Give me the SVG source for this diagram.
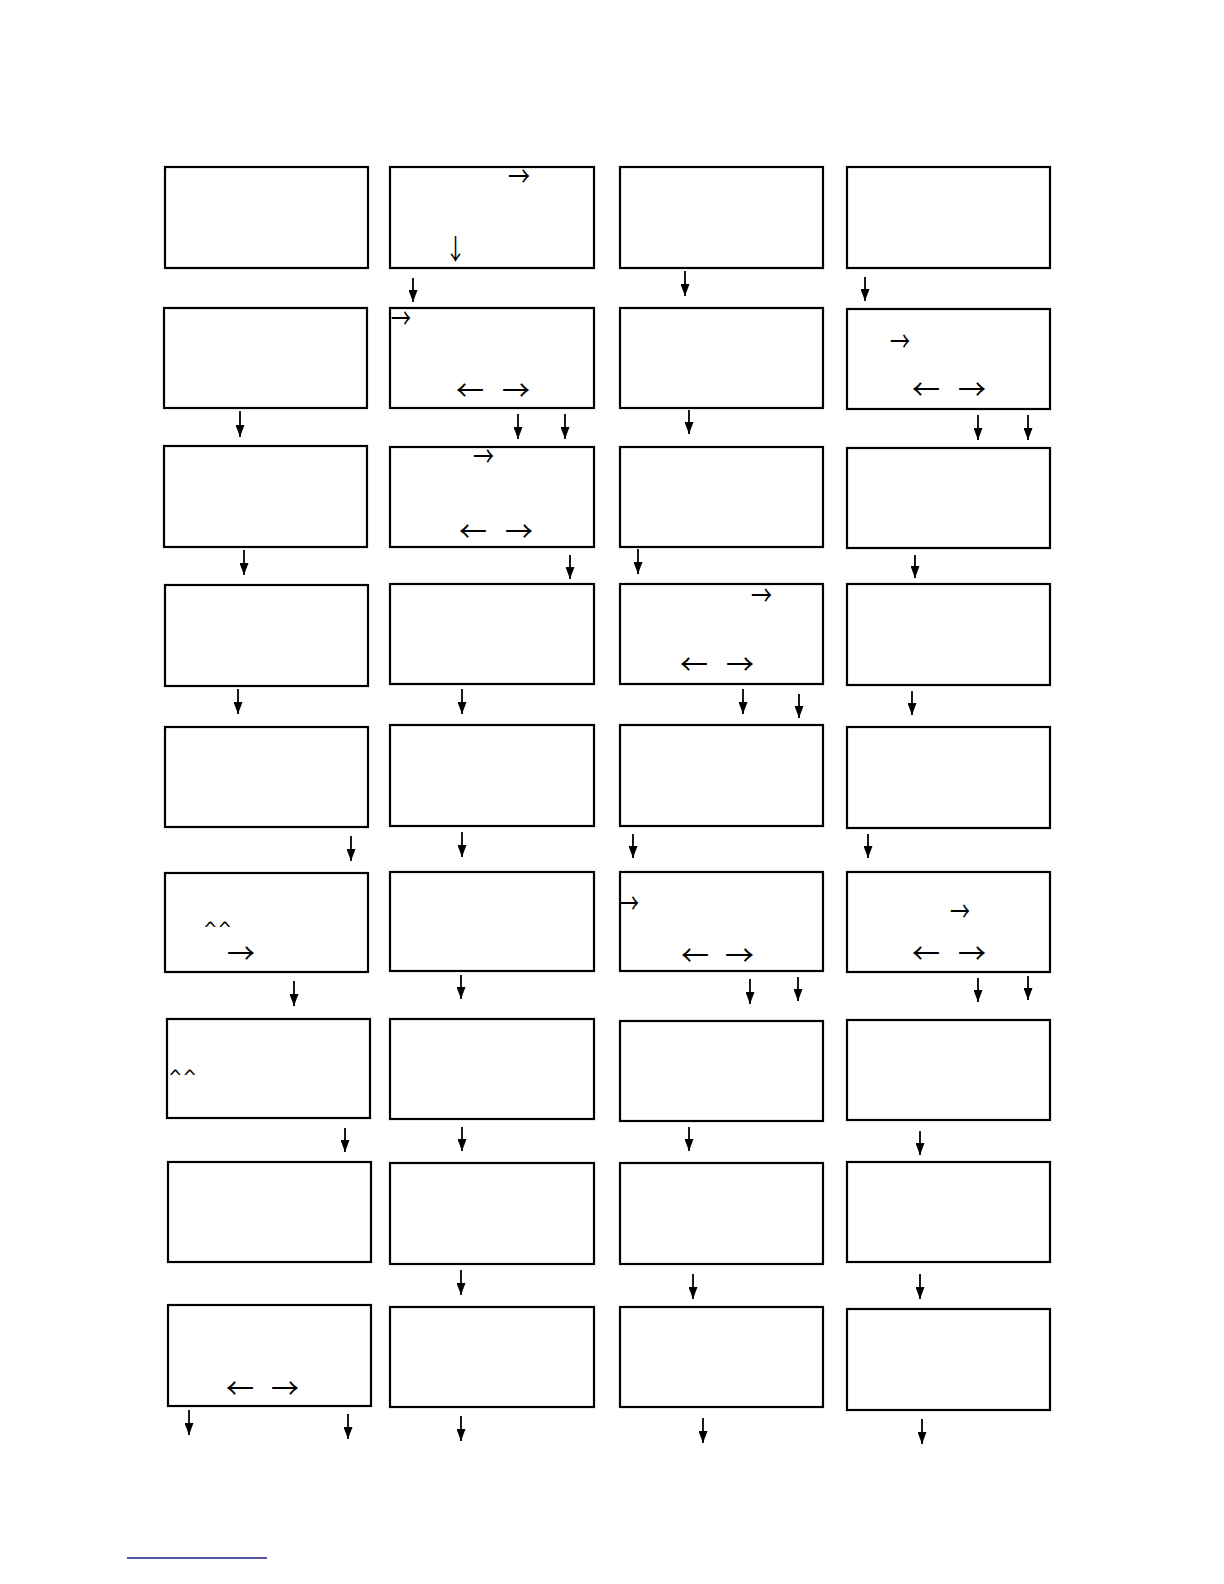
<svg xmlns="http://www.w3.org/2000/svg" width="1224" height="1584" viewBox="0 0 1224 1584">
<defs>
<marker id="ah" markerWidth="12" markerHeight="9" refX="12" refY="4.5" orient="auto" markerUnits="userSpaceOnUse" viewBox="0 0 12 9">
<path d="M0,0 L12,4.5 L0,9 Z" fill="#000"/>
</marker>
</defs>
<style>
.box{fill:#fff;stroke:#000;stroke-width:2.2}
.c line{stroke:#000;stroke-width:1.8;marker-end:url(#ah)}
.g{font-family:"Noto Sans CJK SC","DejaVu Sans",sans-serif;font-size:28px;fill:#000}
.k{font-family:"DejaVu Sans",sans-serif;font-size:20px;fill:#000}
</style>
<rect width="1224" height="1584" fill="#fff"/>
<g id="nodes">
<g id="n11"><rect class="box" x="165" y="167" width="203" height="101"/></g>
<g id="n21"><rect class="box" x="164" y="308" width="203" height="100"/></g>
<g id="n31"><rect class="box" x="164" y="446" width="203" height="101"/></g>
<g id="n41"><rect class="box" x="165" y="585" width="203" height="101"/></g>
<g id="n51"><rect class="box" x="165" y="727" width="203" height="100"/></g>
<g id="n61"><rect class="box" x="165" y="873" width="203" height="99"/>
<text class="k" x="203" y="936" textLength="29" lengthAdjust="spacingAndGlyphs">^^</text>
<text class="g" x="227" y="964" font-size="25" textLength="28" lengthAdjust="spacingAndGlyphs">→</text></g>
<g id="n71"><rect class="box" x="167" y="1019" width="203" height="99"/>
<text class="k" x="168" y="1084" textLength="29" lengthAdjust="spacingAndGlyphs">^^</text></g>
<g id="n81"><rect class="box" x="168" y="1162" width="203" height="100"/></g>
<g id="n91"><rect class="box" x="168" y="1305" width="203" height="101"/>
<text class="g" x="226" y="1399" textLength="28" lengthAdjust="spacingAndGlyphs">←</text>
<text class="g" x="271" y="1399" textLength="28" lengthAdjust="spacingAndGlyphs">→</text></g>

<g id="n12"><rect class="box" x="390" y="167" width="204" height="101"/>
<text class="g" x="508" y="187" textLength="22" lengthAdjust="spacingAndGlyphs">→</text>
<text class="g" x="445" y="260" textLength="21" lengthAdjust="spacingAndGlyphs">↓</text></g>
<g id="n22"><rect class="box" x="390" y="308" width="204" height="100"/>
<text class="g" x="391" y="329" textLength="20" lengthAdjust="spacingAndGlyphs">→</text>
<text class="g" x="456" y="401" textLength="28" lengthAdjust="spacingAndGlyphs">←</text>
<text class="g" x="502" y="401" textLength="28" lengthAdjust="spacingAndGlyphs">→</text></g>
<g id="n32"><rect class="box" x="390" y="447" width="204" height="100"/>
<text class="g" x="473" y="467" textLength="21" lengthAdjust="spacingAndGlyphs">→</text>
<text class="g" x="459" y="542" textLength="28" lengthAdjust="spacingAndGlyphs">←</text>
<text class="g" x="505" y="542" textLength="28" lengthAdjust="spacingAndGlyphs">→</text></g>
<g id="n42"><rect class="box" x="390" y="584" width="204" height="100"/></g>
<g id="n52"><rect class="box" x="390" y="725" width="204" height="101"/></g>
<g id="n62"><rect class="box" x="390" y="872" width="204" height="99"/></g>
<g id="n72"><rect class="box" x="390" y="1019" width="204" height="100"/></g>
<g id="n82"><rect class="box" x="390" y="1163" width="204" height="101"/></g>
<g id="n92"><rect class="box" x="390" y="1307" width="204" height="100"/></g>

<g id="n13"><rect class="box" x="620" y="167" width="203" height="101"/></g>
<g id="n23"><rect class="box" x="620" y="308" width="203" height="100"/></g>
<g id="n33"><rect class="box" x="620" y="447" width="203" height="100"/></g>
<g id="n43"><rect class="box" x="620" y="584" width="203" height="100"/>
<text class="g" x="751" y="606" textLength="21" lengthAdjust="spacingAndGlyphs">→</text>
<text class="g" x="680" y="675" textLength="28" lengthAdjust="spacingAndGlyphs">←</text>
<text class="g" x="726" y="675" textLength="28" lengthAdjust="spacingAndGlyphs">→</text></g>
<g id="n53"><rect class="box" x="620" y="725" width="203" height="101"/></g>
<g id="n63"><rect class="box" x="620" y="872" width="203" height="99"/>
<text class="g" x="619" y="914" textLength="20" lengthAdjust="spacingAndGlyphs">→</text>
<text class="g" x="681" y="966" textLength="28" lengthAdjust="spacingAndGlyphs">←</text>
<text class="g" x="725" y="966" textLength="29" lengthAdjust="spacingAndGlyphs">→</text></g>
<g id="n73"><rect class="box" x="620" y="1021" width="203" height="100"/></g>
<g id="n83"><rect class="box" x="620" y="1163" width="203" height="101"/></g>
<g id="n93"><rect class="box" x="620" y="1307" width="203" height="100"/></g>

<g id="n14"><rect class="box" x="847" y="167" width="203" height="101"/></g>
<g id="n24"><rect class="box" x="847" y="309" width="203" height="100"/>
<text class="g" x="890" y="352" textLength="20" lengthAdjust="spacingAndGlyphs">→</text>
<text class="g" x="912" y="400" textLength="28" lengthAdjust="spacingAndGlyphs">←</text>
<text class="g" x="958" y="400" textLength="28" lengthAdjust="spacingAndGlyphs">→</text></g>
<g id="n34"><rect class="box" x="847" y="448" width="203" height="100"/></g>
<g id="n44"><rect class="box" x="847" y="584" width="203" height="101"/></g>
<g id="n54"><rect class="box" x="847" y="727" width="203" height="101"/></g>
<g id="n64"><rect class="box" x="847" y="872" width="203" height="100"/>
<text class="g" x="950" y="922" textLength="20" lengthAdjust="spacingAndGlyphs">→</text>
<text class="g" x="912" y="964" textLength="28" lengthAdjust="spacingAndGlyphs">←</text>
<text class="g" x="958" y="964" textLength="28" lengthAdjust="spacingAndGlyphs">→</text></g>
<g id="n74"><rect class="box" x="847" y="1020" width="203" height="100"/></g>
<g id="n84"><rect class="box" x="847" y="1162" width="203" height="100"/></g>
<g id="n94"><rect class="box" x="847" y="1309" width="203" height="101"/></g>
</g>
<g id="connectors" class="c">
<line x1="413" y1="278" x2="413" y2="302"/>
<line x1="685" y1="271" x2="685" y2="296"/>
<line x1="865" y1="277" x2="865" y2="301"/>
<line x1="240" y1="411" x2="240" y2="437"/>
<line x1="518" y1="414" x2="518" y2="439"/>
<line x1="565" y1="414" x2="565" y2="439"/>
<line x1="689" y1="410" x2="689" y2="434"/>
<line x1="978" y1="415" x2="978" y2="440"/>
<line x1="1028" y1="415" x2="1028" y2="440"/>
<line x1="244" y1="550" x2="244" y2="575"/>
<line x1="570" y1="555" x2="570" y2="579"/>
<line x1="638" y1="549" x2="638" y2="574"/>
<line x1="915" y1="555" x2="915" y2="578"/>
<line x1="238" y1="689" x2="238" y2="714"/>
<line x1="462" y1="689" x2="462" y2="714"/>
<line x1="743" y1="689" x2="743" y2="714"/>
<line x1="799" y1="694" x2="799" y2="718"/>
<line x1="912" y1="691" x2="912" y2="715"/>
<line x1="351" y1="836" x2="351" y2="861"/>
<line x1="462" y1="832" x2="462" y2="857"/>
<line x1="633" y1="834" x2="633" y2="858"/>
<line x1="868" y1="834" x2="868" y2="858"/>
<line x1="294" y1="981" x2="294" y2="1006"/>
<line x1="461" y1="975" x2="461" y2="999"/>
<line x1="750" y1="979" x2="750" y2="1004"/>
<line x1="798" y1="977" x2="798" y2="1001"/>
<line x1="978" y1="978" x2="978" y2="1002"/>
<line x1="1028" y1="976" x2="1028" y2="1000"/>
<line x1="345" y1="1128" x2="345" y2="1152"/>
<line x1="462" y1="1127" x2="462" y2="1151"/>
<line x1="689" y1="1127" x2="689" y2="1151"/>
<line x1="920" y1="1131" x2="920" y2="1155"/>
<line x1="461" y1="1270" x2="461" y2="1295"/>
<line x1="693" y1="1274" x2="693" y2="1299"/>
<line x1="920" y1="1274" x2="920" y2="1299"/>
<line x1="189" y1="1410" x2="189" y2="1435"/>
<line x1="348" y1="1414" x2="348" y2="1439"/>
<line x1="461" y1="1416" x2="461" y2="1441"/>
<line x1="703" y1="1418" x2="703" y2="1443"/>
<line x1="922" y1="1419" x2="922" y2="1444"/>
</g>
<line x1="127" y1="1558" x2="267" y2="1558" stroke="#1a1a80" stroke-width="1.5"/>
</svg>
